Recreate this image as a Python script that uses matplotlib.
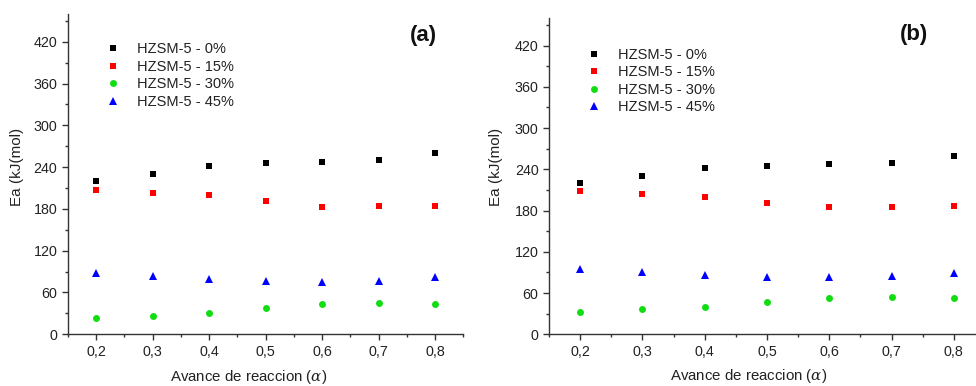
import matplotlib
matplotlib.use("Agg")
import matplotlib.pyplot as plt
from matplotlib.ticker import MultipleLocator, FixedLocator

plt.rcParams['font.family'] = ['Liberation Sans', 'DejaVu Sans']
plt.rcParams['mathtext.fontset'] = 'dejavuserif'

alpha = [0.2, 0.3, 0.4, 0.5, 0.6, 0.7, 0.8]
tick_labels = ['0,2', '0,3', '0,4', '0,5', '0,6', '0,7', '0,8']
series_names = ['HZSM-5 - 0%', 'HZSM-5 - 15%', 'HZSM-5 - 30%', 'HZSM-5 - 45%']

# Panel (a)
ea_a_0 = [219.5, 230.5, 241.4, 245.3, 247.2, 249.6, 260.6]
ea_a_15 = [207.6, 203.3, 199.5, 190.9, 182.7, 183.7, 184.2]
ea_a_30 = [22.9, 26.7, 30.0, 37.2, 43.4, 45.3, 43.4]
ea_a_45 = [87.4, 84.0, 79.7, 76.3, 75.3, 76.3, 82.0]

# Panel (b)
ea_b_0 = [220.0, 230.8, 241.4, 244.3, 247.2, 249.1, 259.8]
ea_b_15 = [208.0, 204.7, 199.8, 191.6, 184.8, 185.2, 186.2]
ea_b_30 = [32.8, 36.3, 40.2, 47.3, 53.1, 54.6, 53.1]
ea_b_45 = [94.3, 90.4, 86.5, 83.6, 83.2, 84.2, 89.0]

styles = [
    dict(marker='s', color='#000000', ms=4.6),
    dict(marker='s', color='#ff0000', ms=4.6),
    dict(marker='o', color='#11dd11', ms=5.0),
    dict(marker='^', color='#0000ff', ms=6.0),
]

text_color = '#222222'

fig = plt.figure(figsize=(9.76, 3.86), dpi=100)
ax_a = fig.add_axes([0.0694, 0.134, 0.4053, 0.830])
ax_b = fig.add_axes([0.5625, 0.134, 0.4467, 0.819])

panels = [
    (ax_a, [ea_a_0, ea_a_15, ea_a_30, ea_a_45], '(a)', (0.90, 0.934),
     (-0.128, 0.522), (0.08, 0.93)),
    (ax_b, [ea_b_0, ea_b_15, ea_b_30, ea_b_45], '(b)', (0.837, 0.949),
     (-0.122, 0.529), (0.073, 0.925)),
]

for ax, data, tag, tag_xy, ylab_xy, leg_xy in panels:
    for vals, name, st in zip(data, series_names, styles):
        ax.plot(alpha, vals, linestyle='none', marker=st['marker'],
                color=st['color'], markersize=st['ms'],
                markeredgewidth=0, label=name)
    ax.set_xlim(0.15, 0.85)
    ax.set_ylim(0, 460)
    ax.xaxis.set_major_locator(FixedLocator(alpha))
    ax.set_xticklabels(tick_labels)
    ax.xaxis.set_minor_locator(MultipleLocator(0.05))
    ax.yaxis.set_major_locator(FixedLocator(list(range(0, 421, 60))))
    ax.yaxis.set_minor_locator(MultipleLocator(30))
    for side in ('top', 'right'):
        ax.spines[side].set_visible(False)
    for side in ('left', 'bottom'):
        ax.spines[side].set_color('#333333')
        ax.spines[side].set_linewidth(1.0)
    ax.tick_params(which='major', direction='out', length=4.5, width=1.0,
                   color='#333333', labelsize=10.3, labelcolor=text_color, pad=3)
    ax.tick_params(which='minor', direction='out', length=2.5, width=1.0,
                   color='#333333')
    ax.set_ylabel('Ea (kJ(mol)', fontsize=11, color=text_color)
    ax.yaxis.set_label_coords(*ylab_xy)
    ax.yaxis.label.set_va('center')
    ax.yaxis.label.set_ha('center')
    ax.set_xlabel(r'Avance de reaccion ($\alpha$)', fontsize=10.8,
                  color=text_color)
    ax.xaxis.set_label_coords(0.458, -0.133)
    ax.xaxis.label.set_va('center')
    ax.text(tag_xy[0], tag_xy[1], tag, transform=ax.transAxes, fontsize=16,
            fontweight='bold', color='#111111', ha='center', va='center')
    leg = ax.legend(loc='upper left', bbox_to_anchor=leg_xy,
                    frameon=False, fontsize=10.5, handlelength=1.0,
                    handletextpad=1.15, labelspacing=0.24, borderaxespad=0)
    for t in leg.get_texts():
        t.set_color(text_color)

fig.savefig('out.png', dpi=100)
